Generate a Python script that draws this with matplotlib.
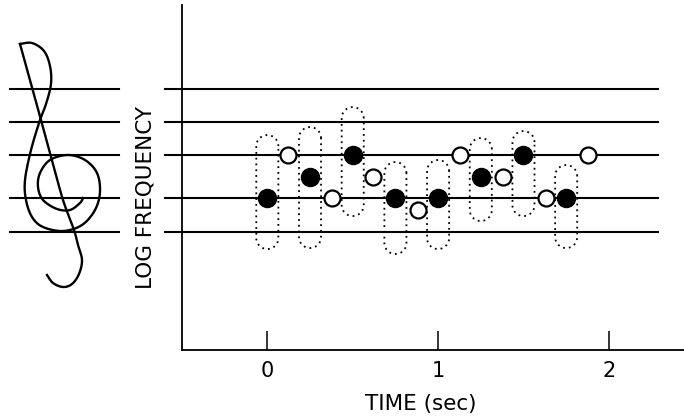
import numpy as np
import matplotlib
matplotlib.use('Agg')
import matplotlib.pyplot as plt

# staff levels (log frequency, arbitrary units)
staff = [26.1, 22.8, 19.5, 15.2, 11.8]

# tones: filled = one stream, open = the other
t_fill = [0.0, 0.25, 0.5, 0.75, 1.0, 1.25, 1.5, 1.75]
f_fill = [15.2, 17.3, 19.5, 15.2, 15.2, 17.3, 19.5, 15.2]
t_open = [0.12, 0.38, 0.62, 0.88, 1.13, 1.38, 1.63, 1.88]
f_open = [19.5, 15.2, 17.3, 14.0, 19.5, 17.3, 15.2, 19.5]

# dotted envelopes around each filled tone (low, high)
env_lo = [10.1, 10.2, 13.4, 9.6, 10.1, 12.9, 13.4, 10.2]
env_hi = [21.5, 22.3, 24.3, 18.8, 19.0, 21.2, 21.9, 18.5]

xticks = [0, 1, 2]
xticklabels = ['0', '1', '2']


def smooth(pts, n=16):
    # catmull-rom through hand points
    p = np.array(pts, float)
    p = np.vstack([p[0], p, p[-1]])
    out = []
    t = np.linspace(0, 1, n, endpoint=False)[:, None]
    for i in range(1, len(p) - 2):
        p0, p1, p2, p3 = p[i - 1], p[i], p[i + 1], p[i + 2]
        out.append(0.5 * (2 * p1 + (-p0 + p2) * t
                          + (2 * p0 - 5 * p1 + 4 * p2 - p3) * t ** 2
                          + (-p0 + 3 * p1 - 3 * p2 + p3) * t ** 3))
    out.append(p[-2][None])
    return np.vstack(out)


fig = plt.figure(figsize=(6.84, 4.19), dpi=100)
ax = fig.add_axes([0.266, 0.1647, 0.734, 0.823])
ax.set_xlim(-0.5, 2.44)
ax.set_ylim(0, 34.5)

for s in ['top', 'right']:
    ax.spines[s].set_visible(False)
for s in ['left', 'bottom']:
    ax.spines[s].set_linewidth(1.3)

# staff lines in the plot, and the short staff under the clef
for y in staff:
    ax.plot([-0.60, 2.285], [y, y], color='black', lw=1.5, clip_on=False)
    ax.plot([-1.508, -0.868], [y, y], color='black', lw=1.5, clip_on=False)

# dotted capsules, radius of 11 px in both directions
rx = 11 / 170.3
ry = 1.1
th = np.linspace(0, np.pi, 30)
for x, lo, hi in zip(t_fill, env_lo, env_hi):
    top_x = x + rx * np.cos(th)
    top_y = hi - ry + ry * np.sin(th)
    bot_x = x - rx * np.cos(th)
    bot_y = lo + ry - ry * np.sin(th)
    cx = np.concatenate([top_x, bot_x, top_x[:1]])
    cy = np.concatenate([top_y, bot_y, top_y[:1]])
    ax.plot(cx, cy, color='black', lw=1.3, linestyle=(0, (1, 2.2)))

ax.plot(t_fill, f_fill, 'o', ms=13, color='black', zorder=5)
ax.plot(t_open, f_open, 'o', ms=11.5, mfc='white', mec='black', mew=1.6, zorder=5)

ax.set_xticks(xticks)
ax.set_xticklabels(xticklabels)
ax.tick_params(axis='x', direction='in', length=14, width=1.1, pad=8, labelsize=15)
ax.set_yticks([])

ax.set_xlabel('TIME (sec)', fontsize=15.5, va='center')
ax.xaxis.set_label_coords(0.476, -0.157)
ax.set_ylabel('LOG FREQUENCY', fontsize=15.5, va='center')
ax.yaxis.set_label_coords(-0.0717, 0.443)

# treble clef, drawn in pixel space
deco = fig.add_axes([0, 0, 1, 1], zorder=-1)
deco.set_xlim(0, 684)
deco.set_ylim(419, 0)
deco.axis('off')
stem = [(47, 275), (53, 283), (63, 287), (72, 284), (79, 274), (82, 260),
        (78, 245), (74, 230), (63, 200), (52, 160), (41, 120), (30, 80), (20, 44)]
loop = [(20, 44), (32, 43), (44, 51), (50, 66), (51, 84), (46, 104), (40, 120),
        (31, 150), (25, 180), (26, 200), (32, 217), (43, 227), (63, 231),
        (82, 225), (95, 210), (100, 192), (97, 173), (85, 160), (68, 155),
        (50, 160), (40, 173), (38, 187), (43, 200), (57, 209), (70, 210),
        (80, 203), (83, 198)]
for part in (stem, loop):
    c = smooth(part)
    deco.plot(c[:, 0], c[:, 1], color='black', lw=1.7)

fig.savefig('out.png', dpi=100)
